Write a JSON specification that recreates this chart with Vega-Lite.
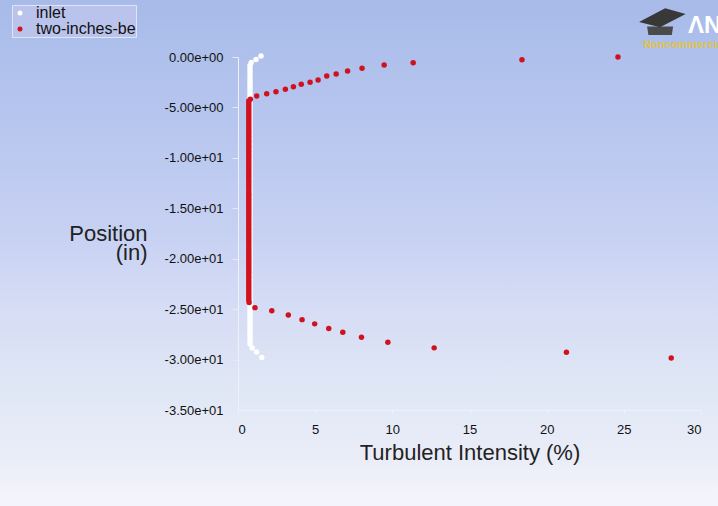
{
  "$schema": "https://vega.github.io/schema/vega-lite/v6.json",
  "width": 463,
  "height": 353,
  "autosize": {"type": "none"},
  "padding": {"left": 238, "top": 57, "right": 17, "bottom": 96},
  "background": "#cdd6f2",
  "config": {
    "view": {"stroke": null},
    "font": "Liberation Sans"
  },
  "datasets": {
    "pts": [
      {"s": "inlet", "x": 1.49, "y": 0.1},
      {"s": "inlet", "x": 1.17, "y": -0.25},
      {"s": "inlet", "x": 0.86, "y": -0.55},
      {"s": "inlet", "x": 0.78, "y": -0.85},
      {"s": "inlet", "x": 0.78, "y": -1.15},
      {"s": "inlet", "x": 0.78, "y": -1.45},
      {"s": "inlet", "x": 0.78, "y": -1.75},
      {"s": "inlet", "x": 0.78, "y": -2.05},
      {"s": "inlet", "x": 0.78, "y": -2.35},
      {"s": "inlet", "x": 0.78, "y": -2.65},
      {"s": "inlet", "x": 0.78, "y": -2.95},
      {"s": "inlet", "x": 0.78, "y": -3.25},
      {"s": "inlet", "x": 0.78, "y": -3.55},
      {"s": "inlet", "x": 0.78, "y": -3.85},
      {"s": "inlet", "x": 0.78, "y": -4.15},
      {"s": "inlet", "x": 0.78, "y": -4.45},
      {"s": "inlet", "x": 0.78, "y": -4.75},
      {"s": "inlet", "x": 0.78, "y": -5.05},
      {"s": "inlet", "x": 0.78, "y": -5.35},
      {"s": "inlet", "x": 0.78, "y": -5.65},
      {"s": "inlet", "x": 0.78, "y": -5.95},
      {"s": "inlet", "x": 0.78, "y": -6.25},
      {"s": "inlet", "x": 0.78, "y": -6.55},
      {"s": "inlet", "x": 0.78, "y": -6.85},
      {"s": "inlet", "x": 0.78, "y": -7.15},
      {"s": "inlet", "x": 0.78, "y": -7.45},
      {"s": "inlet", "x": 0.78, "y": -7.75},
      {"s": "inlet", "x": 0.78, "y": -8.05},
      {"s": "inlet", "x": 0.78, "y": -8.35},
      {"s": "inlet", "x": 0.78, "y": -8.65},
      {"s": "inlet", "x": 0.78, "y": -8.95},
      {"s": "inlet", "x": 0.78, "y": -9.25},
      {"s": "inlet", "x": 0.78, "y": -9.55},
      {"s": "inlet", "x": 0.78, "y": -9.85},
      {"s": "inlet", "x": 0.78, "y": -10.15},
      {"s": "inlet", "x": 0.78, "y": -10.45},
      {"s": "inlet", "x": 0.78, "y": -10.75},
      {"s": "inlet", "x": 0.78, "y": -11.05},
      {"s": "inlet", "x": 0.78, "y": -11.35},
      {"s": "inlet", "x": 0.78, "y": -11.65},
      {"s": "inlet", "x": 0.78, "y": -11.95},
      {"s": "inlet", "x": 0.78, "y": -12.25},
      {"s": "inlet", "x": 0.78, "y": -12.55},
      {"s": "inlet", "x": 0.78, "y": -12.85},
      {"s": "inlet", "x": 0.78, "y": -13.15},
      {"s": "inlet", "x": 0.78, "y": -13.45},
      {"s": "inlet", "x": 0.78, "y": -13.75},
      {"s": "inlet", "x": 0.78, "y": -14.05},
      {"s": "inlet", "x": 0.78, "y": -14.35},
      {"s": "inlet", "x": 0.78, "y": -14.65},
      {"s": "inlet", "x": 0.78, "y": -14.95},
      {"s": "inlet", "x": 0.78, "y": -15.25},
      {"s": "inlet", "x": 0.78, "y": -15.55},
      {"s": "inlet", "x": 0.78, "y": -15.85},
      {"s": "inlet", "x": 0.78, "y": -16.15},
      {"s": "inlet", "x": 0.78, "y": -16.45},
      {"s": "inlet", "x": 0.78, "y": -16.75},
      {"s": "inlet", "x": 0.78, "y": -17.05},
      {"s": "inlet", "x": 0.78, "y": -17.35},
      {"s": "inlet", "x": 0.78, "y": -17.65},
      {"s": "inlet", "x": 0.78, "y": -17.95},
      {"s": "inlet", "x": 0.78, "y": -18.25},
      {"s": "inlet", "x": 0.78, "y": -18.55},
      {"s": "inlet", "x": 0.78, "y": -18.85},
      {"s": "inlet", "x": 0.78, "y": -19.15},
      {"s": "inlet", "x": 0.78, "y": -19.45},
      {"s": "inlet", "x": 0.78, "y": -19.75},
      {"s": "inlet", "x": 0.78, "y": -20.05},
      {"s": "inlet", "x": 0.78, "y": -20.35},
      {"s": "inlet", "x": 0.78, "y": -20.65},
      {"s": "inlet", "x": 0.78, "y": -20.95},
      {"s": "inlet", "x": 0.78, "y": -21.25},
      {"s": "inlet", "x": 0.78, "y": -21.55},
      {"s": "inlet", "x": 0.78, "y": -21.85},
      {"s": "inlet", "x": 0.78, "y": -22.15},
      {"s": "inlet", "x": 0.78, "y": -22.45},
      {"s": "inlet", "x": 0.78, "y": -22.75},
      {"s": "inlet", "x": 0.78, "y": -23.05},
      {"s": "inlet", "x": 0.78, "y": -23.35},
      {"s": "inlet", "x": 0.78, "y": -23.65},
      {"s": "inlet", "x": 0.78, "y": -23.95},
      {"s": "inlet", "x": 0.78, "y": -24.25},
      {"s": "inlet", "x": 0.78, "y": -24.55},
      {"s": "inlet", "x": 0.78, "y": -24.85},
      {"s": "inlet", "x": 0.78, "y": -25.15},
      {"s": "inlet", "x": 0.78, "y": -25.45},
      {"s": "inlet", "x": 0.78, "y": -25.75},
      {"s": "inlet", "x": 0.78, "y": -26.05},
      {"s": "inlet", "x": 0.78, "y": -26.35},
      {"s": "inlet", "x": 0.78, "y": -26.65},
      {"s": "inlet", "x": 0.78, "y": -26.95},
      {"s": "inlet", "x": 0.78, "y": -27.25},
      {"s": "inlet", "x": 0.78, "y": -27.55},
      {"s": "inlet", "x": 0.78, "y": -27.85},
      {"s": "inlet", "x": 0.78, "y": -28.15},
      {"s": "inlet", "x": 0.78, "y": -28.45},
      {"s": "inlet", "x": 0.92, "y": -28.85},
      {"s": "inlet", "x": 1.2, "y": -29.25},
      {"s": "inlet", "x": 1.54, "y": -29.8},
      {"s": "two-inches-be", "x": 24.62, "y": 0.0},
      {"s": "two-inches-be", "x": 18.4, "y": -0.27},
      {"s": "two-inches-be", "x": 11.35, "y": -0.57},
      {"s": "two-inches-be", "x": 9.47, "y": -0.79},
      {"s": "two-inches-be", "x": 8.04, "y": -1.12},
      {"s": "two-inches-be", "x": 7.1, "y": -1.39},
      {"s": "two-inches-be", "x": 6.36, "y": -1.68},
      {"s": "two-inches-be", "x": 5.75, "y": -1.88},
      {"s": "two-inches-be", "x": 5.19, "y": -2.28},
      {"s": "two-inches-be", "x": 4.67, "y": -2.51},
      {"s": "two-inches-be", "x": 4.1, "y": -2.71},
      {"s": "two-inches-be", "x": 3.59, "y": -2.94},
      {"s": "two-inches-be", "x": 3.07, "y": -3.2},
      {"s": "two-inches-be", "x": 2.46, "y": -3.44},
      {"s": "two-inches-be", "x": 1.86, "y": -3.64},
      {"s": "two-inches-be", "x": 1.21, "y": -3.87},
      {"s": "two-inches-be", "x": 0.8, "y": -4.2},
      {"s": "two-inches-be", "x": 0.7, "y": -4.35},
      {"s": "two-inches-be", "x": 0.7, "y": -4.6},
      {"s": "two-inches-be", "x": 0.7, "y": -4.85},
      {"s": "two-inches-be", "x": 0.7, "y": -5.1},
      {"s": "two-inches-be", "x": 0.7, "y": -5.35},
      {"s": "two-inches-be", "x": 0.7, "y": -5.6},
      {"s": "two-inches-be", "x": 0.7, "y": -5.85},
      {"s": "two-inches-be", "x": 0.7, "y": -6.1},
      {"s": "two-inches-be", "x": 0.7, "y": -6.35},
      {"s": "two-inches-be", "x": 0.7, "y": -6.6},
      {"s": "two-inches-be", "x": 0.7, "y": -6.85},
      {"s": "two-inches-be", "x": 0.7, "y": -7.1},
      {"s": "two-inches-be", "x": 0.7, "y": -7.35},
      {"s": "two-inches-be", "x": 0.7, "y": -7.6},
      {"s": "two-inches-be", "x": 0.7, "y": -7.85},
      {"s": "two-inches-be", "x": 0.7, "y": -8.1},
      {"s": "two-inches-be", "x": 0.7, "y": -8.35},
      {"s": "two-inches-be", "x": 0.7, "y": -8.6},
      {"s": "two-inches-be", "x": 0.7, "y": -8.85},
      {"s": "two-inches-be", "x": 0.7, "y": -9.1},
      {"s": "two-inches-be", "x": 0.7, "y": -9.35},
      {"s": "two-inches-be", "x": 0.7, "y": -9.6},
      {"s": "two-inches-be", "x": 0.7, "y": -9.85},
      {"s": "two-inches-be", "x": 0.7, "y": -10.1},
      {"s": "two-inches-be", "x": 0.7, "y": -10.35},
      {"s": "two-inches-be", "x": 0.7, "y": -10.6},
      {"s": "two-inches-be", "x": 0.7, "y": -10.85},
      {"s": "two-inches-be", "x": 0.7, "y": -11.1},
      {"s": "two-inches-be", "x": 0.7, "y": -11.35},
      {"s": "two-inches-be", "x": 0.7, "y": -11.6},
      {"s": "two-inches-be", "x": 0.7, "y": -11.85},
      {"s": "two-inches-be", "x": 0.7, "y": -12.1},
      {"s": "two-inches-be", "x": 0.7, "y": -12.35},
      {"s": "two-inches-be", "x": 0.7, "y": -12.6},
      {"s": "two-inches-be", "x": 0.7, "y": -12.85},
      {"s": "two-inches-be", "x": 0.7, "y": -13.1},
      {"s": "two-inches-be", "x": 0.7, "y": -13.35},
      {"s": "two-inches-be", "x": 0.7, "y": -13.6},
      {"s": "two-inches-be", "x": 0.7, "y": -13.85},
      {"s": "two-inches-be", "x": 0.7, "y": -14.1},
      {"s": "two-inches-be", "x": 0.7, "y": -14.35},
      {"s": "two-inches-be", "x": 0.7, "y": -14.6},
      {"s": "two-inches-be", "x": 0.7, "y": -14.85},
      {"s": "two-inches-be", "x": 0.7, "y": -15.1},
      {"s": "two-inches-be", "x": 0.7, "y": -15.35},
      {"s": "two-inches-be", "x": 0.7, "y": -15.6},
      {"s": "two-inches-be", "x": 0.7, "y": -15.85},
      {"s": "two-inches-be", "x": 0.7, "y": -16.1},
      {"s": "two-inches-be", "x": 0.7, "y": -16.35},
      {"s": "two-inches-be", "x": 0.7, "y": -16.6},
      {"s": "two-inches-be", "x": 0.7, "y": -16.85},
      {"s": "two-inches-be", "x": 0.7, "y": -17.1},
      {"s": "two-inches-be", "x": 0.7, "y": -17.35},
      {"s": "two-inches-be", "x": 0.7, "y": -17.6},
      {"s": "two-inches-be", "x": 0.7, "y": -17.85},
      {"s": "two-inches-be", "x": 0.7, "y": -18.1},
      {"s": "two-inches-be", "x": 0.7, "y": -18.35},
      {"s": "two-inches-be", "x": 0.7, "y": -18.6},
      {"s": "two-inches-be", "x": 0.7, "y": -18.85},
      {"s": "two-inches-be", "x": 0.7, "y": -19.1},
      {"s": "two-inches-be", "x": 0.7, "y": -19.35},
      {"s": "two-inches-be", "x": 0.7, "y": -19.6},
      {"s": "two-inches-be", "x": 0.7, "y": -19.85},
      {"s": "two-inches-be", "x": 0.7, "y": -20.1},
      {"s": "two-inches-be", "x": 0.7, "y": -20.35},
      {"s": "two-inches-be", "x": 0.7, "y": -20.6},
      {"s": "two-inches-be", "x": 0.7, "y": -20.85},
      {"s": "two-inches-be", "x": 0.7, "y": -21.1},
      {"s": "two-inches-be", "x": 0.7, "y": -21.35},
      {"s": "two-inches-be", "x": 0.7, "y": -21.6},
      {"s": "two-inches-be", "x": 0.7, "y": -21.85},
      {"s": "two-inches-be", "x": 0.7, "y": -22.1},
      {"s": "two-inches-be", "x": 0.7, "y": -22.35},
      {"s": "two-inches-be", "x": 0.7, "y": -22.6},
      {"s": "two-inches-be", "x": 0.7, "y": -22.85},
      {"s": "two-inches-be", "x": 0.7, "y": -23.1},
      {"s": "two-inches-be", "x": 0.7, "y": -23.35},
      {"s": "two-inches-be", "x": 0.7, "y": -23.6},
      {"s": "two-inches-be", "x": 0.7, "y": -23.85},
      {"s": "two-inches-be", "x": 0.7, "y": -24.1},
      {"s": "two-inches-be", "x": 0.72, "y": -24.35},
      {"s": "two-inches-be", "x": 1.1, "y": -24.85},
      {"s": "two-inches-be", "x": 2.19, "y": -25.17},
      {"s": "two-inches-be", "x": 3.26, "y": -25.57},
      {"s": "two-inches-be", "x": 4.15, "y": -26.04},
      {"s": "two-inches-be", "x": 4.97, "y": -26.46},
      {"s": "two-inches-be", "x": 5.88, "y": -26.93},
      {"s": "two-inches-be", "x": 6.79, "y": -27.29},
      {"s": "two-inches-be", "x": 8.0, "y": -27.78},
      {"s": "two-inches-be", "x": 9.71, "y": -28.28},
      {"s": "two-inches-be", "x": 12.71, "y": -28.84},
      {"s": "two-inches-be", "x": 21.28, "y": -29.28},
      {"s": "two-inches-be", "x": 28.07, "y": -29.84}
    ]
  },
  "layer": [
    {
      "data": {"values": [{}]},
      "mark": {
        "type": "rect",
        "clip": false,
        "color": {
          "gradient": "linear",
          "x1": 0, "y1": 0, "x2": 0, "y2": 1,
          "stops": [
            {"offset": 0.0, "color": "#a7bae8"},
            {"offset": 0.2, "color": "#b4c4ee"},
            {"offset": 0.45, "color": "#c6d0f2"},
            {"offset": 0.6, "color": "#d5dcf5"},
            {"offset": 0.78, "color": "#e1e8f5"},
            {"offset": 0.9, "color": "#eaedf8"},
            {"offset": 1.0, "color": "#f6f5fc"}
          ]
        }
      },
      "encoding": {
        "x": {"datum": -16, "type": "quantitative", "scale": {"domain": [0, 30], "nice": false}},
        "x2": {"datum": 32},
        "y": {"datum": 6, "type": "quantitative", "scale": {"domain": [-35, 0], "nice": false}},
        "y2": {"datum": -45}
      }
    },
    {
      "data": {"name": "pts"},
      "mark": {"type": "point", "filled": true, "size": 30, "opacity": 1, "strokeWidth": 0},
      "encoding": {
        "x": {
          "field": "x", "type": "quantitative",
          "scale": {"domain": [0, 30], "nice": false},
          "axis": {
            "title": "Turbulent Intensity (%)",
            "values": [0, 5, 10, 15, 20, 25, 30],
            "format": "d",
            "grid": false,
            "labelFont": "Liberation Sans",
            "labelFontSize": 13,
            "labelColor": "#111111",
            "labelPadding": 9,
            "tickSize": 4,
            "tickColor": "#eef1fa",
            "domainColor": "#eef1fa",
            "titleFont": "Liberation Sans",
            "titleFontSize": 22,
            "titleFontWeight": "normal",
            "titleColor": "#222222",
            "titlePadding": 6,
            "zindex": 1
          }
        },
        "y": {
          "field": "y", "type": "quantitative",
          "scale": {"domain": [-35, 0], "nice": false},
          "axis": {
            "title": ["Position", "(in)"],
            "values": [0, -5, -10, -15, -20, -25, -30, -35],
            "labelExpr": "(datum.value < 0 ? '-' : '') + replace(format(abs(datum.value), '.2e'), 'e+', 'e+0')",
            "grid": false,
            "labelFont": "Liberation Sans",
            "labelFontSize": 13,
            "labelColor": "#111111",
            "labelPadding": 9,
            "tickSize": 6,
            "tickColor": "#e4e9f7",
            "domainColor": "#eef1fa",
            "titleFont": "Liberation Sans",
            "titleFontSize": 22,
            "titleFontWeight": "normal",
            "titleColor": "#222222",
            "titleAngle": 0,
            "titleAlign": "right",
            "titleBaseline": "alphabetic",
            "titleLineHeight": 19,
            "titleX": -91,
            "titleY": 183,
            "zindex": 1
          }
        },
        "color": {
          "field": "s", "type": "nominal",
          "scale": {"domain": ["inlet", "two-inches-be"], "range": ["#ffffff", "#d0121f"]},
          "legend": {
            "title": null,
            "orient": "none",
            "legendX": -226,
            "legendY": -52,
            "direction": "vertical",
            "fillColor": "#b9c3ec",
            "strokeColor": "#dfe5f7",
            "padding": 0,
            "symbolType": "circle",
            "symbolSize": 25,
            "symbolOffset": 0,
            "symbolStrokeWidth": 0,
            "labelFont": "Liberation Sans",
            "labelFontSize": 16,
            "labelColor": "#111111",
            "labelOffset": 8,
            "labelBaseline": "middle",
            "rowPadding": -3,
            "zindex": 1
          }
        }
      }
    },
    {
      "data": {"values": [{}]},
      "mark": {"type": "point", "filled": true, "clip": false, "color": "#4a4a4a", "opacity": 1, "size": 676, "shape": "M-1,-0.35L1,-0.35L0.9,0.3L-0.9,0.3Z"},
      "encoding": {
        "x": {"datum": 27.35, "type": "quantitative", "scale": {"domain": [0, 30], "nice": false}},
        "y": {"datum": 2.58, "type": "quantitative", "scale": {"domain": [-35, 0], "nice": false}}
      }
    },
    {
      "data": {"values": [{}]},
      "mark": {"type": "point", "filled": true, "clip": false, "color": "#383838", "opacity": 1, "size": 2209, "shape": "M-0.98,0.21L0.13,-0.38L1,-0.13L-0.09,0.43Z"},
      "encoding": {
        "x": {"datum": 27.48, "type": "quantitative", "scale": {"domain": [0, 30], "nice": false}},
        "y": {"datum": 3.95, "type": "quantitative", "scale": {"domain": [-35, 0], "nice": false}}
      }
    },
    {
      "data": {"values": [{}]},
      "mark": {"type": "text", "clip": false, "text": "ΛNSYS", "font": "Liberation Sans", "fontSize": 24, "fontWeight": "bold", "color": "#ffffff", "align": "left", "baseline": "alphabetic"},
      "encoding": {
        "x": {"datum": 29.16, "type": "quantitative", "scale": {"domain": [0, 30], "nice": false}},
        "y": {"datum": 2.38, "type": "quantitative", "scale": {"domain": [-35, 0], "nice": false}}
      }
    },
    {
      "data": {"values": [{}]},
      "mark": {"type": "text", "clip": false, "text": "Noncommercial", "font": "Liberation Sans", "fontSize": 11, "fontWeight": "bold", "color": "#e0c24a", "align": "left", "baseline": "alphabetic"},
      "encoding": {
        "x": {"datum": 26.25, "type": "quantitative", "scale": {"domain": [0, 30], "nice": false}},
        "y": {"datum": 0.89, "type": "quantitative", "scale": {"domain": [-35, 0], "nice": false}}
      }
    }
  ]
}
